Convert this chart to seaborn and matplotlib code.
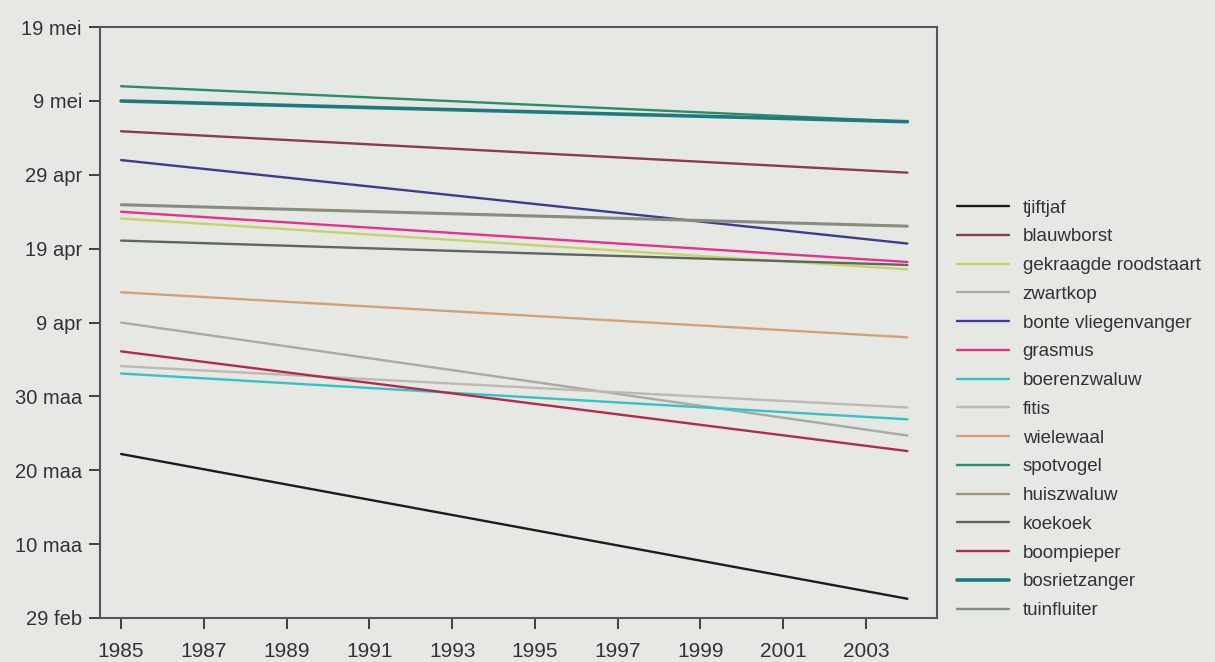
import matplotlib
matplotlib.use("Agg")
import matplotlib.pyplot as plt
import seaborn as sns
import pandas as pd

species = ["tjiftjaf", "blauwborst", "gekraagde roodstaart", "zwartkop",
           "bonte vliegenvanger", "grasmus", "boerenzwaluw", "fitis",
           "wielewaal", "spotvogel", "huiszwaluw", "koekoek", "boompieper",
           "bosrietzanger", "tuinfluiter"]
# day-of-year (leap year: 60 = 29 feb) at start (1985) and end (2004)
start_day = [82.2, 125.9, 114.1, 100.0, 122.0, 115.0, 93.1, 94.1,
             104.1, 132.0, 115.9, 111.1, 96.1, 130.0, 116.0]
end_day = [62.6, 120.3, 107.2, 84.7, 110.7, 108.2, 86.9, 88.5,
           98.0, 127.2, 113.0, 107.8, 82.6, 127.2, 113.1]
years = [1985, 2004]
colors = ["#1c1c1c", "#8e3a4e", "#c4d46a", "#a9aaa6", "#3d3c92", "#e8308c",
          "#36c2c8", "#bdb8b0", "#d4a07a", "#2b8c6c", "#9c9274", "#5e665f",
          "#b42a4c", "#1e7a82", "#858b85"]
ytick_vals = [60, 70, 80, 90, 100, 110, 120, 130, 140]
ytick_labels = ["29 feb", "10 maa", "20 maa", "30 maa", "9 apr", "19 apr",
                "29 apr", "9 mei", "19 mei"]
xtick_vals = list(range(1985, 2004, 2))

rows = []
for s, a, b in zip(species, start_day, end_day):
    rows.append({"soort": s, "jaar": years[0], "dag": a})
    rows.append({"soort": s, "jaar": years[1], "dag": b})
df = pd.DataFrame(rows)

sns.set_theme(style="ticks")
plt.rcParams["font.family"] = ["Liberation Sans", "DejaVu Sans"]
bg = "#e5e8e3"
fig = plt.figure(figsize=(12.15, 6.62), dpi=100, facecolor=bg)
ax = fig.add_axes([0.0823, 0.0665, 0.771 - 0.0823, 0.959 - 0.0665])
ax.set_facecolor(bg)

palette = dict(zip(species, colors))
for s in species:
    lw = 2.6 if s == "bosrietzanger" else 1.7
    sns.lineplot(data=df[df["soort"] == s], x="jaar", y="dag", color=palette[s],
                 linewidth=lw, ax=ax, label=s)

ax.set_xlim(1984.49, 2004.71)
ax.set_ylim(60, 140)
ax.set_yticks(ytick_vals)
ax.set_yticklabels(ytick_labels)
ax.set_xticks(xtick_vals)
ax.set_xticklabels([str(v) for v in xtick_vals])
ax.set_xlabel("")
ax.set_ylabel("")
ax.tick_params(axis="y", labelsize=14.5, colors="#333333", length=8,
               width=1.3, direction="out", pad=5)
ax.tick_params(axis="x", labelsize=15, colors="#333333", length=8,
               width=1.3, direction="out", pad=9)
for sp in ax.spines.values():
    sp.set_color("#555555")
    sp.set_linewidth(1.5)

leg = ax.legend(loc="center left", bbox_to_anchor=(1.004, 0.353), frameon=False,
                fontsize=13.5, handlelength=2.8, labelspacing=0.62,
                handletextpad=0.7)
for t in leg.get_texts():
    t.set_color("#333333")

fig.savefig("out.png", dpi=100, facecolor=bg)
